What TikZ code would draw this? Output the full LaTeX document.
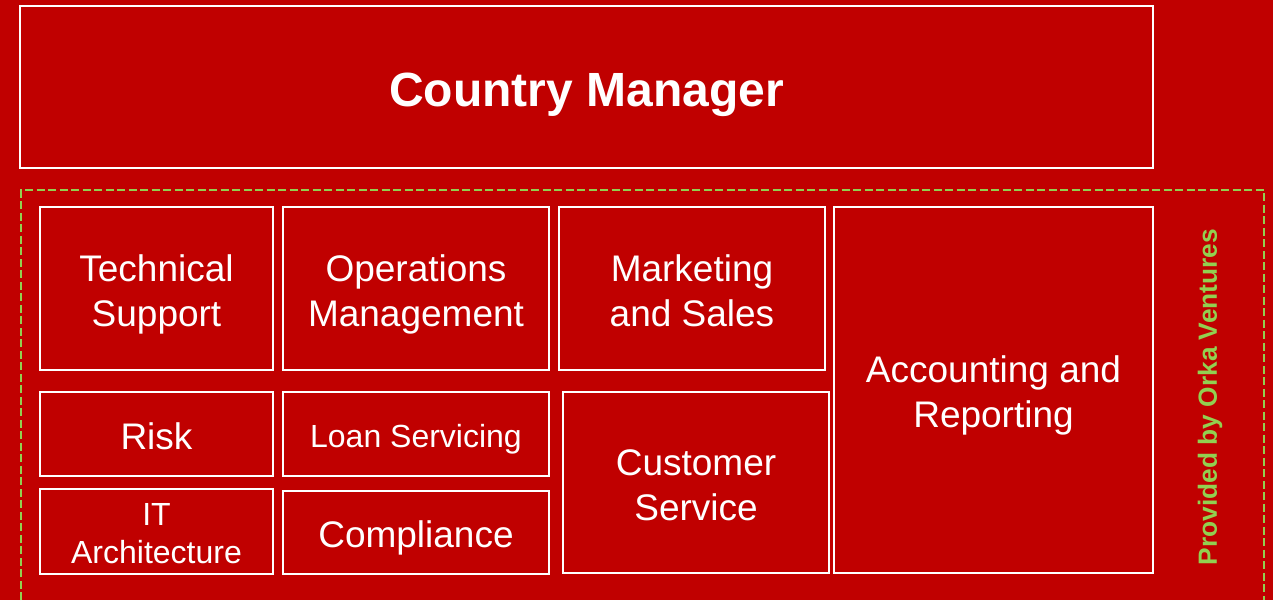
\documentclass[tikz,border=0pt]{standalone}
\usepackage{fontspec}
\setmainfont{Liberation Sans}
\usepackage{tikz}

\definecolor{bgred}{HTML}{C00000}
\definecolor{orkagreen}{HTML}{92D050}
\newcommand{\pptop}{\rule[-0.212em]{0pt}{1.25em}}
\newcommand{\ppbot}{\rule[-0.212em]{0pt}{0.212em}}

\begin{document}
\begin{tikzpicture}[x=1pt,y=-1pt,
	unit/.style={draw=white, line width=2pt, text=white, align=center, inner sep=0pt},
	big/.style={font=\fontsize{37}{45}\selectfont},
	small/.style={font=\fontsize{32}{38}\selectfont}]
	
	\fill[bgred] (0,0) rectangle (1273,600);
	\useasboundingbox (0,0) rectangle (1273,600);
	
	\node[unit, minimum width=1133pt, minimum height=162pt, font=\bfseries\fontsize{48}{56}\selectfont] (cm) at (586.5,87) {\pptop Country Manager};
	
	\coordinate (g1) at (21,600);
	\coordinate (g2) at (21,190);
	\coordinate (g3) at (1264,190);
	\coordinate (g4) at (1264,600);
	\draw[orkagreen, line width=2pt, dash pattern=on 8pt off 3.5pt] (g1) -- (g2) -- (g3) -- (g4);
	
	\node[unit, big, minimum width=233pt, minimum height=163pt] (ts) at (156.5,288.5) {\pptop Technical\\Support\ppbot};
	\node[unit, big, minimum width=266pt, minimum height=163pt] (om) at (416,288.5) {\pptop Operations\\Management\ppbot};
	\node[unit, big, minimum width=266pt, minimum height=163pt] (ms) at (692,288.5) {\pptop Marketing\\and Sales\ppbot};
	\node[unit, big, minimum width=319pt, minimum height=366pt] (ar) at (993.5,390) {\pptop Accounting and\\Reporting\ppbot};
	
	\node[unit, big, minimum width=233pt, minimum height=84pt] (risk) at (156.5,434) {\pptop Risk};
	\node[unit, small, minimum width=233pt, minimum height=85pt] (it) at (156.5,531.5) {\pptop IT\\Architecture\ppbot};
	\node[unit, small, minimum width=266pt, minimum height=84pt] (ls) at (416,434) {\pptop Loan Servicing};
	\node[unit, big, minimum width=266pt, minimum height=83pt] (comp) at (416,532.5) {\pptop Compliance};
	\node[unit, big, minimum width=266pt, minimum height=181pt] (cs) at (696,482.5) {\pptop Customer\\Service\ppbot};
	
	\node[rotate=90, text=orkagreen, font=\bfseries\fontsize{26.3}{30}\selectfont] (orka) at (1210,397) {Provided by Orka Ventures};
	
\end{tikzpicture}
\end{document}
